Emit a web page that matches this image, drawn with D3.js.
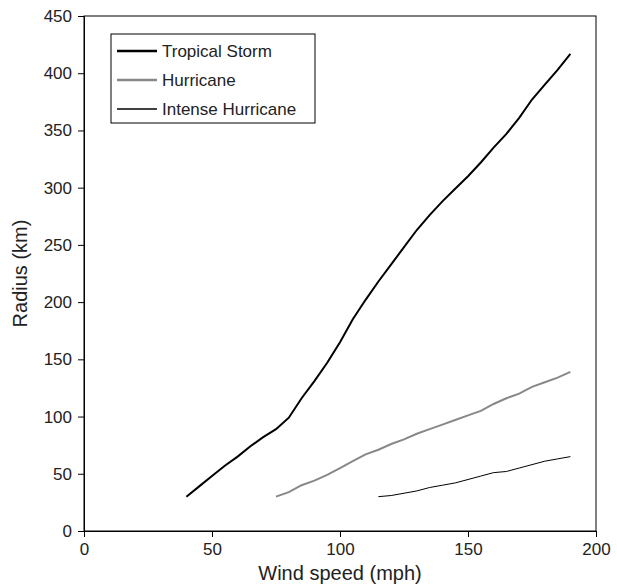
<!DOCTYPE html>
<html>
<head>
<meta charset="utf-8">
<script src="https://cdn.jsdelivr.net/npm/d3@7"></script>
<style>
  body { margin: 0; background: #fff; }
  text { font-family: Arial, "Liberation Sans", sans-serif; fill: #222; }
</style>
</head>
<body>
<script>
// values
const windTS = [40,45,50,55,60,65,70,75,80,85,90,95,100,105,110,115,120,125,130,135,140,145,150,155,160,165,170,175,180,185,190];
const radiusTS = [30,39,48,57,65,74,82,89,99,116,131,147,165,185,202,218,233,248,263,276,288,299,310,322,335,347,361,377,390,403,417];

const windH = [75,80,85,90,95,100,105,110,115,120,125,130,135,140,145,150,155,160,165,170,175,180,185,190];
const radiusH = [30,34,40,44,49,55,61,67,71,76,80,85,89,93,97,101,105,111,116,120,126,130,134,139];

const windIH = [115,120,125,130,135,140,145,150,155,160,165,170,175,180,185,190];
const radiusIH = [30,31,33,35,38,40,42,45,48,51,52,55,58,61,63,65];

const seriesNames = ["Tropical Storm", "Hurricane", "Intense Hurricane"];
const xTicks = [0, 50, 100, 150, 200];
const yTicks = [0, 50, 100, 150, 200, 250, 300, 350, 400, 450];

const width = 617, height = 587;
const margin = {left: 84, right: 21, top: 16, bottom: 56};

const svg = d3.select("body").append("svg").attr("width", width).attr("height", height);

const x = d3.scaleLinear().domain([0, 200]).range([margin.left, width - margin.right]);
const y = d3.scaleLinear().domain([0, 450]).range([height - margin.bottom, margin.top]);

// frame
svg.append("rect")
  .attr("x", x(0)).attr("y", y(450))
  .attr("width", x(200) - x(0)).attr("height", y(0) - y(450))
  .attr("fill", "none").attr("stroke", "#000").attr("stroke-width", 1);

const xAxis = svg.append("g")
  .attr("transform", `translate(0,${y(0)})`)
  .call(d3.axisBottom(x).tickValues(xTicks).tickSize(6).tickPadding(6));
const yAxis = svg.append("g")
  .attr("transform", `translate(${x(0)},0)`)
  .call(d3.axisLeft(y).tickValues(yTicks).tickSize(6).tickPadding(6));

[xAxis, yAxis].forEach(g => {
  g.selectAll("text").attr("font-size", 17).attr("font-family", "Arial, 'Liberation Sans', sans-serif").attr("fill", "#222");
  g.selectAll("line, path").attr("stroke", "#000");
});

svg.append("text")
  .attr("x", x(100)).attr("y", 580)
  .attr("text-anchor", "middle").attr("font-size", 20)
  .text("Wind speed (mph)");

svg.append("text")
  .attr("transform", `translate(27,${(y(0) + y(450)) / 2}) rotate(-90)`)
  .attr("text-anchor", "middle").attr("font-size", 20)
  .text("Radius (km)");

const line = d3.line().x(d => x(d[0])).y(d => y(d[1]));
const series = [
  {name: seriesNames[0], pts: d3.zip(windTS, radiusTS), color: "#000", w: 2},
  {name: seriesNames[1], pts: d3.zip(windH, radiusH), color: "#888", w: 2},
  {name: seriesNames[2], pts: d3.zip(windIH, radiusIH), color: "#000", w: 1}
];

svg.selectAll("path.series").data(series).enter().append("path")
  .attr("class", "series")
  .attr("d", d => line(d.pts))
  .attr("fill", "none")
  .attr("stroke", d => d.color)
  .attr("stroke-width", d => d.w);

// legend
const lg = svg.append("g");
lg.append("rect")
  .attr("x", 111).attr("y", 34).attr("width", 204).attr("height", 89)
  .attr("fill", "#fff").attr("stroke", "#000").attr("stroke-width", 1);
series.forEach((s, i) => {
  const cy = 51 + i * 29;
  lg.append("line").attr("x1", 117).attr("x2", 157).attr("y1", cy).attr("y2", cy)
    .attr("stroke", s.color).attr("stroke-width", s.w + 0.5);
  lg.append("text").attr("x", 162).attr("y", cy + 6).attr("font-size", 17).text(s.name);
});
</script>
</body>
</html>
